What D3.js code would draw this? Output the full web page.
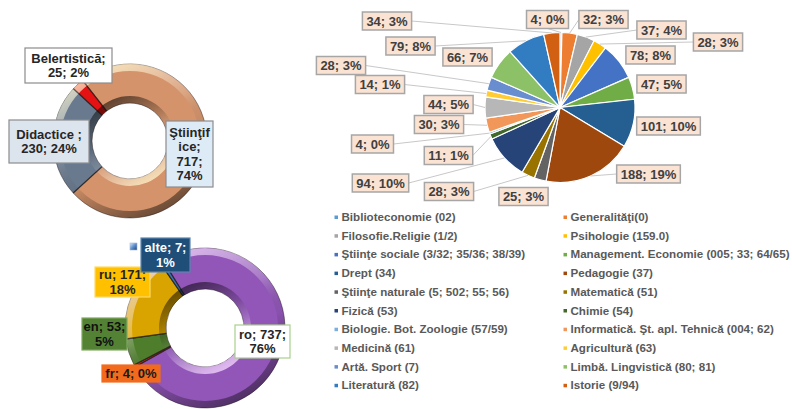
<!DOCTYPE html>
<html><head><meta charset="utf-8">
<script src="https://cdn.jsdelivr.net/npm/d3@7"></script>
<style>
body{margin:0;background:#fff}
svg{display:block;font-family:"Liberation Sans",Arial,sans-serif}
</style>
</head><body>
<svg id="c" width="792" height="409"></svg>
<script>
// ---------------- DATA ----------------
const typeCategories = ["Ştiinţifice", "Didactice ", "Belertistică"];
const typeValues = [717, 230, 25];
const typePercents = ["74%", "24%", "2%"];

const langCategories = ["ro", "fr", "en", "ru", "alte"];
const langValues = [737, 4, 53, 171, 7];
const langPercents = ["76%", "0%", "5%", "18%", "1%"];

const domainCategories = [
  "Biblioteconomie (02)", "Generalităţi(0)",
  "Filosofie.Religie (1/2)", "Psihologie (159.0)",
  "Ştiinţe sociale (3/32; 35/36; 38/39)", "Management. Economie (005; 33; 64/65)",
  "Drept (34)", "Pedagogie (37)",
  "Ştiinţe naturale (5; 502; 55; 56)", "Matematică (51)",
  "Fizică (53)", "Chimie (54)",
  "Biologie. Bot. Zoologie (57/59)", "Informatică. Şt. apl. Tehnică (004; 62)",
  "Medicină (61)", "Agricultură (63)",
  "Artă. Sport (7)", "Limbă. Lingvistică (80; 81)",
  "Literatură (82)", "Istorie (9/94)"
];
const domainValues = [4, 32, 37, 28, 78, 47, 101, 188, 25, 28, 94, 11, 4, 30, 44, 14, 28, 66, 79, 34];
const domainPercents = ["0%", "3%", "4%", "3%", "8%", "5%", "10%", "19%", "3%", "3%", "10%", "1%", "0%", "3%", "5%", "1%", "3%", "7%", "8%", "3%"];

// ---------------- STYLE / LAYOUT ----------------
const typeColors = ["#D4936A", "#6A7A8E", "#E41212"];
const langColors = ["#9156B8", "#E0391B", "#4E7D2C", "#D9A300", "#3E74B5"];
const domainColors = ["#5B9BD5", "#ED7D31", "#A5A5A5", "#FFC000", "#4472C4", "#70AD47", "#255E91", "#9E480E",
  "#636363", "#997300", "#264478", "#43682B", "#7CAFDD", "#F1975A", "#B7B7B7", "#FFCD33", "#698ED0", "#8CC168",
  "#327DC2", "#D26012"];

const typeLayout = { cx: 130, cy: 141, rOut: 77, rIn: 38, start: -38 };
const typeLabels = [
  { cx: 189.5, cy: 154, w: 47, h: 66, maxW: 43, fill: "#DDEBF7", stroke: "#8C8C8C", color: "#262626" },
  { cx: 49, cy: 141.5, w: 80, h: 43, maxW: 72, fill: "#DCE4EE", stroke: "#8C8C8C", color: "#262626" },
  { cx: 68.5, cy: 65.5, w: 87, h: 35, maxW: 80, fill: "#FFFFFF", stroke: "#8C8C8C", color: "#262626" }
];
const langLayout = { cx: 205, cy: 328, rOut: 80, rIn: 39, start: -32 };
const langLabels = [
  { cx: 262.5, cy: 341.5, w: 55, h: 33, maxW: 53, fill: "#FFFFFF", stroke: "#A9D18E", color: "#262626" },
  { cx: 131, cy: 373.5, w: 58, h: 17, maxW: 56, fill: "#F26B1D", stroke: "#F26B1D", color: "#1A1A1A" },
  { cx: 104.5, cy: 334, w: 45, h: 32, maxW: 44, fill: "#548235", stroke: "#7FA860", color: "#111" },
  { cx: 122.5, cy: 282, w: 55, h: 30, maxW: 51, fill: "#FFC000", stroke: "#FFD966", color: "#262626" },
  { cx: 165.5, cy: 255, w: 49, h: 34, maxW: 45, fill: "#1F4E79", stroke: "#5B86B0", color: "#FFFFFF", key: true }
];

const pieLayout = { cx: 560, cy: 107.5, r: 75 };
// label box centres, and whether a leader line is shown
const domainLabelPos = [
  [547.5, 19.5, 1], [603.5, 19.5, 1], [661.5, 30, 1], [718, 42, 1], [650.5, 55, 0], [661.5, 84, 0],
  [668.5, 126, 0], [648.5, 174, 1], [523.5, 196.5, 0], [449, 191.5, 1], [380.5, 183, 1], [448.5, 155.5, 1],
  [372.5, 144, 1], [439, 124.5, 1], [448.5, 104.5, 1], [380, 84.5, 1], [341, 65.5, 1], [467.5, 57, 0],
  [410.5, 46, 1], [387, 21, 1]
];
const legendLayout = { x0: 336, x1: 565, y0: 217, dy: 18.7, font: 11.6 };

// ---------------- DRAW ----------------
const svg = d3.select("#c");
const defs = svg.append("defs");

function addLinear(id, x1, y1, x2, y2, stops) {
  const g = defs.append("linearGradient").attr("id", id)
    .attr("x1", x1).attr("y1", y1).attr("x2", x2).attr("y2", y2);
  stops.forEach(s => g.append("stop").attr("offset", s[0]).attr("stop-color", s[1]).attr("stop-opacity", s[2]));
}
addLinear("bevOut", 0.25, 0, 0.75, 1, [[0, "#FFF6C8", 0.85], [0.4, "#FFFFFF", 0.15], [0.6, "#000", 0.05], [1, "#000", 0.55]]);
addLinear("bevIn", 0.25, 0, 0.75, 1, [[0, "#000", 0.6], [0.4, "#000", 0.15], [0.6, "#FFF", 0.1], [1, "#FFF6C8", 0.85]]);
addLinear("bevOutL", 0.25, 0, 0.75, 1, [[0, "#F3D6FF", 0.8], [0.4, "#FFFFFF", 0.2], [0.6, "#000", 0.05], [1, "#000", 0.5]]);
addLinear("bevInL", 0.25, 0, 0.75, 1, [[0, "#000", 0.6], [0.4, "#000", 0.15], [0.6, "#FFF", 0.15], [1, "#F3CCFF", 0.9]]);
addLinear("keyGrad", 0, 0, 1, 1, [[0, "#DDEBF7", 1], [0.5, "#5B8FD0", 1], [1, "#1F3F70", 1]]);

const measurer = svg.append("text").attr("x", -1000).attr("y", -1000);
function textWidth(t, size, weight) {
  measurer.attr("font-size", size).attr("font-weight", weight).text(t);
  return measurer.node().getComputedTextLength();
}
function wrap(text, maxW, size) {
  const words = text.split(" ");
  const lines = [];
  let cur = "";
  words.forEach(w => {
    const test = cur ? cur + " " + w : w;
    if (textWidth(test, size, "bold") <= maxW) { cur = test; return; }
    if (cur) lines.push(cur);
    cur = w;
    while (textWidth(cur, size, "bold") > maxW && cur.length > 1) {
      let k = cur.length - 1;
      while (k > 1 && textWidth(cur.slice(0, k), size, "bold") > maxW) k--;
      lines.push(cur.slice(0, k));
      cur = cur.slice(k);
    }
  });
  if (cur) lines.push(cur);
  return lines;
}

function drawDonut(cats, vals, pcts, colors, L, labels, bevO, bevI) {
  const g = svg.append("g").attr("transform", `translate(${L.cx},${L.cy})`);
  const s = L.start * Math.PI / 180;
  const pie = d3.pie().sort(null).value(d => d).startAngle(s).endAngle(s + 2 * Math.PI);
  const arcs = pie(vals);
  const arc = d3.arc().innerRadius(L.rIn).outerRadius(L.rOut);
  g.selectAll("path.slice").data(arcs).join("path").attr("class", "slice")
    .attr("d", arc).attr("fill", (d, i) => colors[i])
    .attr("stroke", "rgba(30,20,20,0.55)").attr("stroke-width", 0.8);
  const bw = 7;
  g.append("path").attr("d", d3.arc().innerRadius(L.rOut - bw).outerRadius(L.rOut)({ startAngle: 0, endAngle: 2 * Math.PI }))
    .attr("fill", `url(#${bevO})`);
  g.append("path").attr("d", d3.arc().innerRadius(L.rIn).outerRadius(L.rIn + bw)({ startAngle: 0, endAngle: 2 * Math.PI }))
    .attr("fill", `url(#${bevI})`);
  arcs.forEach(a => {
    const ang = a.startAngle;
    g.append("line")
      .attr("x1", Math.sin(ang) * L.rIn).attr("y1", -Math.cos(ang) * L.rIn)
      .attr("x2", Math.sin(ang) * L.rOut).attr("y2", -Math.cos(ang) * L.rOut)
      .attr("stroke", "rgba(20,20,20,0.6)").attr("stroke-width", 1.4);
  });
  cats.forEach((c, i) => {
    const lb = labels[i];
    const txt = `${c}; ${vals[i]}; ${pcts[i]}`;
    const lines = wrap(txt, lb.maxW, 13);
    const lg = svg.append("g");
    lg.append("rect").attr("x", lb.cx - lb.w / 2).attr("y", lb.cy - lb.h / 2)
      .attr("width", lb.w).attr("height", lb.h)
      .attr("fill", lb.fill).attr("stroke", lb.stroke).attr("stroke-width", 1.2);
    const lh = 14.5;
    const y0 = lb.cy - (lines.length - 1) * lh / 2 + 4.6;
    lines.forEach((ln, k) => {
      lg.append("text").attr("x", lb.cx).attr("y", y0 + k * lh)
        .attr("text-anchor", "middle").attr("font-size", 13).attr("font-weight", "bold")
        .attr("fill", lb.color).text(ln);
    });
    if (lb.key) {
      lg.append("rect").attr("x", lb.cx - lb.w / 2 - 11).attr("y", lb.cy - lb.h / 2 + 5)
        .attr("width", 7).attr("height", 7).attr("fill", "url(#keyGrad)")
        .attr("stroke", "#9DB5D5").attr("stroke-width", 0.6);
    }
  });
}

drawDonut(typeCategories, typeValues, typePercents, typeColors, typeLayout, typeLabels, "bevOut", "bevIn");
drawDonut(langCategories, langValues, langPercents, langColors, langLayout, langLabels, "bevOutL", "bevInL");

// ---- Right pie ----
const pg = svg.append("g").attr("transform", `translate(${pieLayout.cx},${pieLayout.cy})`);
const dPie = d3.pie().sort(null).value(d => d).startAngle(0).endAngle(2 * Math.PI);
const dArcs = dPie(domainValues);
const dArc = d3.arc().innerRadius(0).outerRadius(pieLayout.r);

const leaderG = svg.append("g");
dArcs.forEach((a, i) => {
  const [bx, by, show] = domainLabelPos[i];
  if (!show) return;
  const mid = (a.startAngle + a.endAngle) / 2;
  const sx = pieLayout.cx + Math.sin(mid) * pieLayout.r;
  const sy = pieLayout.cy - Math.cos(mid) * pieLayout.r;
  const t = `${domainValues[i]}; ${domainPercents[i]}`;
  const w = textWidth(t, 13, "bold") + 8, h = 18;
  const x0 = bx - w / 2, x1 = bx + w / 2, y0 = by - h / 2, y1 = by + h / 2;
  let px, py;
  if (sx > x1) { px = x1; py = by; }
  else if (sx < x0) { px = x0; py = by; }
  else if (sy > y1) { px = bx; py = y1; }
  else { px = bx; py = y0; }
  leaderG.append("line").attr("x1", px).attr("y1", py).attr("x2", sx).attr("y2", sy)
    .attr("stroke", "#C8C8C8").attr("stroke-width", 1);
});

pg.selectAll("path").data(dArcs).join("path")
  .attr("d", dArc).attr("fill", (d, i) => domainColors[i])
  .attr("stroke", "#FFFFFF").attr("stroke-width", 1.2);

const labG = svg.append("g");
dArcs.forEach((a, i) => {
  const [bx, by] = domainLabelPos[i];
  const t = `${domainValues[i]}; ${domainPercents[i]}`;
  const w = textWidth(t, 13, "bold") + 8, h = 18;
  labG.append("rect").attr("x", bx - w / 2).attr("y", by - h / 2).attr("width", w).attr("height", h)
    .attr("fill", "#FBE3D4").attr("stroke", "#A6A6A6").attr("stroke-width", 1.5);
  labG.append("text").attr("x", bx).attr("y", by + 4.6).attr("text-anchor", "middle")
    .attr("font-size", 13).attr("font-weight", "bold").attr("fill", "#404040").text(t);
});

// ---- Legend ----
const legG = svg.append("g");
domainCategories.forEach((c, i) => {
  const col = i % 2, row = Math.floor(i / 2);
  const x = col === 0 ? legendLayout.x0 : legendLayout.x1;
  const y = legendLayout.y0 + row * legendLayout.dy;
  legG.append("rect").attr("x", x - 1.5).attr("y", y - 1.5).attr("width", 3.5).attr("height", 3.5)
    .attr("fill", domainColors[i]);
  legG.append("text").attr("x", x + 5.5).attr("y", y + 4).attr("font-size", legendLayout.font).attr("font-weight", "bold")
    .attr("fill", "#595959").text(c);
});
measurer.remove();
</script>
</body></html>
